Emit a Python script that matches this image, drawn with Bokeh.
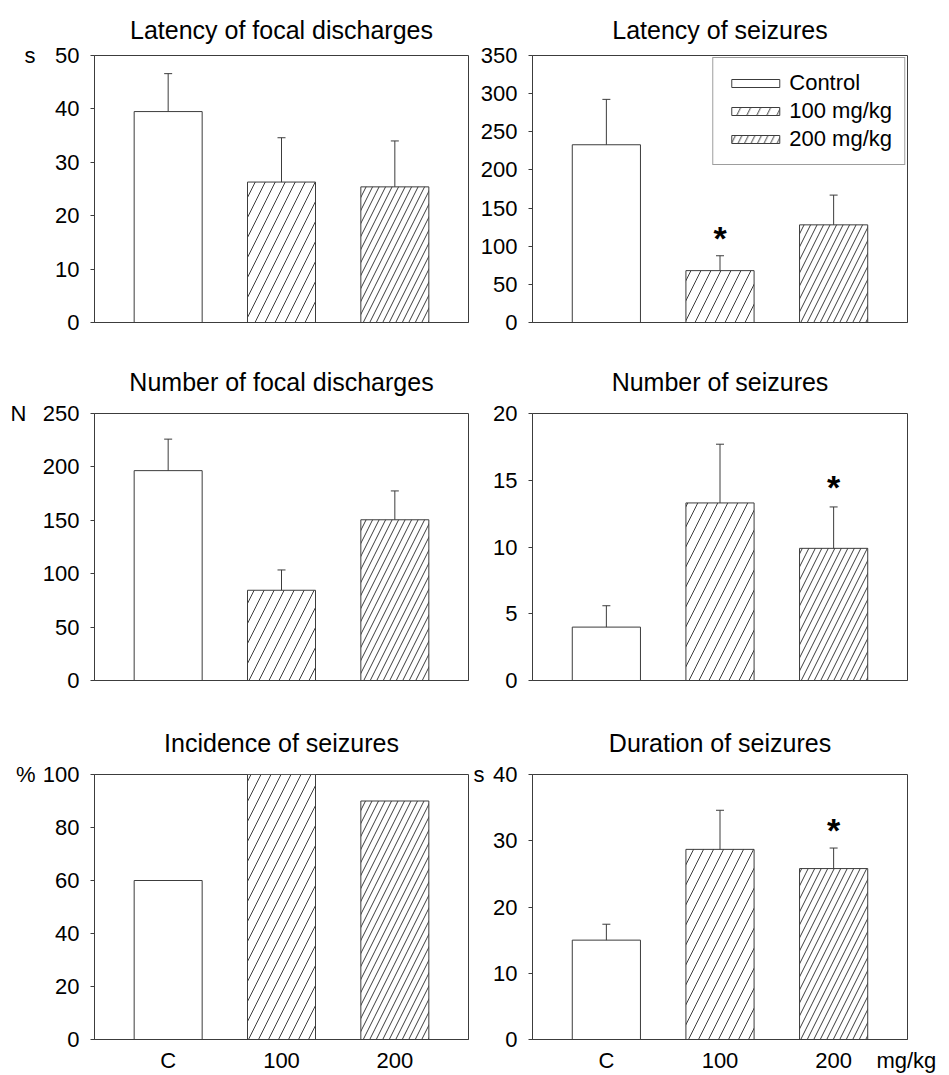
from bokeh.plotting import figure
from bokeh.layouts import column, row
from bokeh.models import Range1d, FixedTicker, LinearAxis, Legend, LegendItem
from bokeh.embed import file_html
from bokeh.resources import INLINE
from bokeh.core.properties import value

# ---------------- data ----------------
groups = ["C", "100", "200"]
legend_names = ["Control", "100 mg/kg", "200 mg/kg"]
dose_unit = "mg/kg"

latency_focal = [39.5, 26.3, 25.4]
latency_focal_err = [7.1, 8.3, 8.6]

latency_seiz = [233.0, 68.0, 128.0]
latency_seiz_err = [59.5, 19.5, 39.0]

number_focal = [196.5, 84.5, 150.5]
number_focal_err = [29.5, 19.0, 27.0]

number_seiz = [4.0, 13.3, 9.9]
number_seiz_err = [1.6, 4.4, 3.1]

incidence = [60.0, 100.0, 90.0]

duration = [15.0, 28.7, 25.8]
duration_err = [2.4, 5.9, 3.1]

# significance stars: (group index, height of star)
star_lat_seiz = (1, 115.0)
star_num_seiz = (2, 14.75)
star_duration = (2, 32.15)

# ---------------- style ----------------
FONT = "Liberation Sans"
INK = "#3c3c3c"
HATCH = [None, "/", "/"]
HATCH_SCALE = [12, 20, 13]
BAR_W = 0.6
X_LO, X_HI = -0.65, 2.65


def panel(title, means, errs, ymax, ystep, unit, unit_standoff, star, w, geom, side,
          xlabels=False, legend=False, mgkg=False):
    h, bt, bb, title_standoff = geom
    bl, br = side
    p = figure(width=w, height=h, output_backend="svg", toolbar_location=None,
               x_range=Range1d(X_LO, X_HI), y_range=Range1d(0, ymax),
               min_border_left=bl, min_border_right=br,
               min_border_top=bt, min_border_bottom=bb)
    p.background_fill_color = "white"
    p.border_fill_color = "white"
    p.outline_line_color = INK
    p.outline_line_width = 1
    p.grid.visible = False

    p.title.text = title
    p.title.align = "center"
    p.title.text_font = FONT
    p.title.text_font_size = "25px"
    p.title.text_font_style = "normal"
    p.title.text_color = "black"
    p.title.standoff = title_standoff

    # y axis
    ya = p.yaxis[0]
    ya.ticker = FixedTicker(ticks=list(range(0, ymax + 1, ystep)))
    ya.minor_tick_line_color = None
    ya.major_tick_in = 0
    ya.major_tick_out = 4
    ya.major_tick_line_color = INK
    ya.axis_line_color = INK
    ya.major_label_text_font = FONT
    ya.major_label_text_font_size = "22px"
    ya.major_label_text_color = "black"
    ya.major_label_standoff = 11

    # unit label as an outer, line-less axis with a single tick at the top
    if unit:
        ua = LinearAxis(ticker=FixedTicker(ticks=[ymax]),
                        major_label_overrides={ymax: unit},
                        axis_line_color=None, major_tick_line_color=None,
                        minor_tick_line_color=None, major_tick_out=0,
                        major_tick_in=0, major_label_standoff=unit_standoff,
                        major_label_text_font=FONT,
                        major_label_text_font_size="22px",
                        major_label_text_color="black")
        p.add_layout(ua, "left")

    # x axis
    xa = p.xaxis[0]
    xa.axis_line_color = INK
    xa.major_tick_line_color = None
    xa.minor_tick_line_color = None
    if xlabels:
        ticks = [0, 1, 2]
        overrides = {i: g for i, g in enumerate(groups)}
        if mgkg:
            ticks.append(X_HI - 0.01)
            overrides[X_HI - 0.01] = dose_unit
        xa.ticker = FixedTicker(ticks=ticks)
        xa.major_label_overrides = overrides
        xa.major_label_text_font = FONT
        xa.major_label_text_font_size = "22px"
        xa.major_label_text_color = "black"
        xa.major_label_standoff = 2
    else:
        xa.ticker = FixedTicker(ticks=[])
        xa.major_label_text_font_size = "0px"

    items = []
    for i in range(3):
        kw = dict(x=[i], top=[means[i]], width=BAR_W, bottom=0,
                  fill_color="white", line_color=INK, line_width=1)
        if HATCH[i]:
            kw.update(hatch_pattern=HATCH[i], hatch_scale=HATCH_SCALE[i],
                      hatch_color=INK, hatch_weight=1)
        r = p.vbar(**kw)
        items.append(LegendItem(label=legend_names[i], renderers=[r]))
        if errs is not None:
            top = means[i] + errs[i]
            p.segment(x0=[i], y0=[means[i]], x1=[i], y1=[top],
                      line_color=INK, line_width=1)
            p.scatter(x=[i], y=[top], marker="dash", size=8,
                      line_color=INK, line_width=1)

    if star is not None:
        p.text(x=[star[0]], y=[star[1]], text=["*"], text_font=value(FONT),
               text_font_size="34px", text_font_style="bold",
               text_align="center", text_baseline="middle", y_offset=3,
               text_color="black")

    if legend:
        lg = Legend(items=items, location="top_right")
        lg.margin = 2
        lg.padding = 12
        lg.spacing = 2
        lg.label_standoff = 4
        lg.glyph_width = 60
        lg.glyph_height = 10
        lg.border_line_color = INK
        lg.border_line_width = 1
        lg.background_fill_color = "white"
        lg.label_text_font = FONT
        lg.label_text_font_size = "22px"
        lg.label_text_color = "black"
        p.add_layout(lg)
    return p


LW, RW = 470, 479
LB = (94, 2)
RB = (62, 42)
# (figure height, top border, bottom border, title standoff)
R1 = (346, 55, 24, 24)
R2 = (358, 67, 24, 35)
R3 = (371, 70, 35, 36)

p1 = panel("Latency of focal discharges", latency_focal, latency_focal_err, 50, 10,
           "s", 17, None, LW, R1, LB)
p2 = panel("Latency of seizures", latency_seiz, latency_seiz_err, 350, 50,
           "", 0, star_lat_seiz, RW, R1, RB, legend=True)
p3 = panel("Number of focal discharges", number_focal, number_focal_err, 250, 50,
           "N", 13, None, LW, R2, LB)
p4 = panel("Number of seizures", number_seiz, number_seiz_err, 20, 5,
           "", 0, star_num_seiz, RW, R2, RB)
p5 = panel("Incidence of seizures", incidence, None, 100, 20,
           "%", 4, None, LW, R3, LB, xlabels=True)
p6 = panel("Duration of seizures", duration, duration_err, 40, 10,
           "s", 6, star_duration, RW, R3, RB, xlabels=True, mgkg=True)

layout = column(row(p1, p2), row(p3, p4), row(p5, p6))
open("out.html", "w").write(file_html(layout, INLINE))
